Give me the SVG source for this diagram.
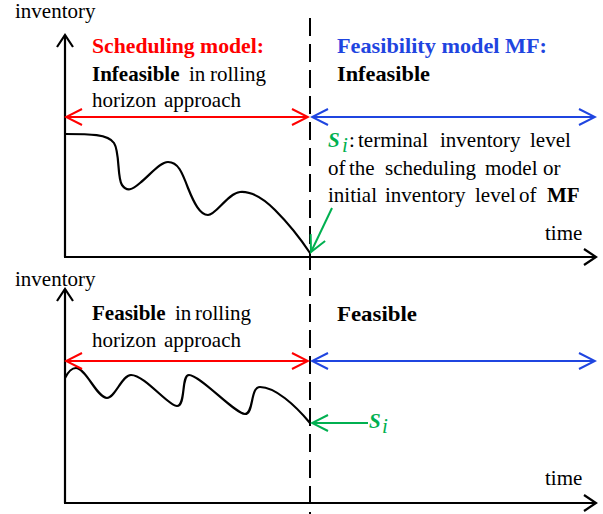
<svg xmlns="http://www.w3.org/2000/svg" width="603" height="514" viewBox="0 0 603 514">
<style>
.t{font-size:21px;fill:#000}
.b{font-weight:bold}
.red{fill:#FF0000}
.blue{fill:#1F45E0}
.green{fill:#00B050;font-style:italic}
.ax{stroke:#000;stroke-width:2.2;fill:none}
.curve{stroke:#000;stroke-width:2.2;fill:none}
.dash{stroke:#000;stroke-width:2;stroke-dasharray:18 8;fill:none}
</style>
<defs>
<marker id="mk" viewBox="-14 -10 16 20" refX="0" refY="0" markerWidth="16" markerHeight="20" markerUnits="userSpaceOnUse" orient="auto"><path d="M-12,-8 L0,0 L-12,8" fill="none" stroke="#000" stroke-width="2.2"/></marker>
<marker id="mr" viewBox="-18 -10 20 20" refX="0" refY="0" markerWidth="20" markerHeight="20" markerUnits="userSpaceOnUse" orient="auto-start-reverse"><path d="M-16,-8 L0,0 L-16,8" fill="none" stroke="#FF0000" stroke-width="2"/></marker>
<marker id="mb" viewBox="-18 -10 20 20" refX="0" refY="0" markerWidth="20" markerHeight="20" markerUnits="userSpaceOnUse" orient="auto-start-reverse"><path d="M-16,-8 L0,0 L-16,8" fill="none" stroke="#1F45E0" stroke-width="2"/></marker>
<marker id="mg" viewBox="-18 -10 20 20" refX="0" refY="0" markerWidth="20" markerHeight="20" markerUnits="userSpaceOnUse" orient="auto"><path d="M-16,-8 L0,0 L-16,8" fill="none" stroke="#00B050" stroke-width="2"/></marker>
</defs>

<g id="axes-top">
<line class="ax" x1="65" y1="257" x2="65" y2="35" marker-end="url(#mk)"/>
<line class="ax" x1="64" y1="257" x2="596" y2="257" marker-end="url(#mk)"/>
<text class="t" font-family="Times New Roman, Liberation Serif, serif" x="15" y="18">inventory</text>
<text class="t" font-family="Times New Roman, Liberation Serif, serif" x="545" y="240">time</text>
</g>

<g id="axes-bottom">
<line class="ax" x1="65" y1="503" x2="65" y2="289" marker-end="url(#mk)"/>
<line class="ax" x1="64" y1="503" x2="596" y2="503" marker-end="url(#mk)"/>
<text class="t" font-family="Times New Roman, Liberation Serif, serif" x="15" y="286">inventory</text>
<text class="t" font-family="Times New Roman, Liberation Serif, serif" x="545" y="485">time</text>
</g>

<g id="divider">
<line class="dash" x1="310" y1="18" x2="310" y2="514"/>
</g>

<g id="curve-top">
<path class="curve" d="M65,134 C90,134 108,134 114,143 C120,152 117,178 122,185 C127,192 132,190 140,183 C150,175 160,162 168,162 C178,162 182,172 188,188 C194,203 200,215 208,215 C216,215 228,193 240,192 C252,191 263,198 275,210 C290,225 300,238 310,253"/>
</g>

<g id="curve-bottom">
<path class="curve" d="M65,378 C68,372 71,368 76,368 C86,368 97,398 107,398 C115,398 122,375 131,375 C145,375 168,406 177,406 C186,406 181,375 189,375 C200,375 235,414 245,414 C254,414 250,387 260,387 C275,387 295,405 310,423"/>
</g>

<g id="connectors">
<line x1="66" y1="117" x2="308" y2="117" stroke="#FF0000" stroke-width="2" marker-start="url(#mr)" marker-end="url(#mr)"/>
<line x1="312" y1="117" x2="595" y2="117" stroke="#1F45E0" stroke-width="2" marker-start="url(#mb)" marker-end="url(#mb)"/>
<line x1="66" y1="361" x2="308" y2="361" stroke="#FF0000" stroke-width="2" marker-start="url(#mr)" marker-end="url(#mr)"/>
<line x1="312" y1="361" x2="595" y2="361" stroke="#1F45E0" stroke-width="2" marker-start="url(#mb)" marker-end="url(#mb)"/>
<line x1="332" y1="208" x2="311" y2="252" stroke="#00B050" stroke-width="2" marker-end="url(#mg)"/>
<line x1="368" y1="423" x2="312" y2="423" stroke="#00B050" stroke-width="2" marker-end="url(#mg)"/>
</g>

<g id="label-scheduling-top">
<text class="t b red" font-family="Times New Roman, Liberation Serif, serif" x="92" y="53" textLength="172" lengthAdjust="spacingAndGlyphs">Scheduling model:</text>
<text class="t" font-family="Times New Roman, Liberation Serif, serif" y="81"><tspan class="b" x="92">Infeasible</tspan><tspan x="189">in</tspan><tspan x="210">rolling</tspan></text>
<text class="t" font-family="Times New Roman, Liberation Serif, serif" y="107"><tspan x="92">horizon</tspan><tspan x="164">approach</tspan></text>
</g>

<g id="label-feasibility-top">
<text class="t b blue" font-family="Times New Roman, Liberation Serif, serif" x="337" y="53" textLength="210" lengthAdjust="spacingAndGlyphs">Feasibility model MF:</text>
<text class="t b" font-family="Times New Roman, Liberation Serif, serif" x="337" y="81" textLength="93" lengthAdjust="spacingAndGlyphs">Infeasible</text>
</g>

<g id="label-si-top">
<text class="t green b" font-family="Times New Roman, Liberation Serif, serif" x="328" y="147" font-size="22">S</text>
<text class="t green" font-family="Times New Roman, Liberation Serif, serif" x="342" y="152" font-size="15">i</text>
<text class="t" font-family="Times New Roman, Liberation Serif, serif" y="147"><tspan x="349">:</tspan><tspan x="358">terminal</tspan><tspan x="440">inventory</tspan><tspan x="530">level</tspan></text>
<text class="t" font-family="Times New Roman, Liberation Serif, serif" y="175"><tspan x="328">of</tspan><tspan x="349">the</tspan><tspan x="385">scheduling</tspan><tspan x="485">model</tspan><tspan x="543">or</tspan></text>
<text class="t" font-family="Times New Roman, Liberation Serif, serif" y="202"><tspan x="328">initial</tspan><tspan x="385">inventory</tspan><tspan x="475">level</tspan><tspan x="519">of</tspan><tspan class="b" x="547">MF</tspan></text>
</g>

<g id="label-scheduling-bottom">
<text class="t" font-family="Times New Roman, Liberation Serif, serif" y="320"><tspan class="b" x="92">Feasible</tspan><tspan x="175">in</tspan><tspan x="195">rolling</tspan></text>
<text class="t" font-family="Times New Roman, Liberation Serif, serif" y="347"><tspan x="92">horizon</tspan><tspan x="164">approach</tspan></text>
</g>

<g id="label-feasibility-bottom">
<text class="t b" font-family="Times New Roman, Liberation Serif, serif" x="337" y="321" textLength="80" lengthAdjust="spacingAndGlyphs">Feasible</text>
</g>

<g id="label-si-bottom">
<text class="t green b" font-family="Times New Roman, Liberation Serif, serif" x="369" y="428" font-size="22">S</text>
<text class="t green" font-family="Times New Roman, Liberation Serif, serif" x="382" y="433" font-size="15">i</text>
</g>
</svg>
